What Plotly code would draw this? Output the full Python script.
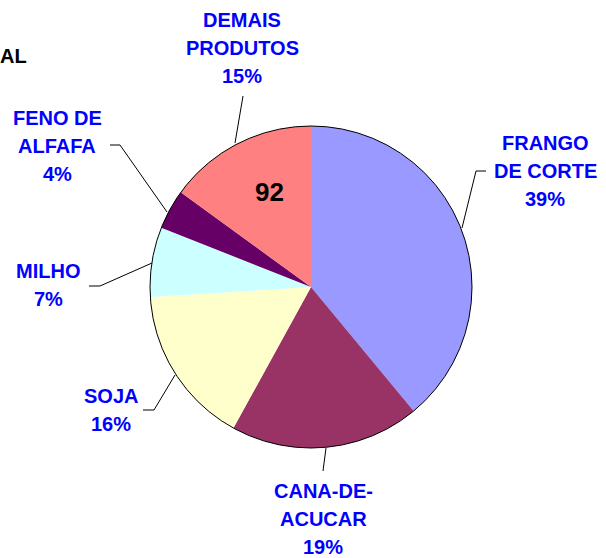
import plotly.graph_objects as go

# ---- data ----
categories = ["FRANGO DE CORTE", "CANA-DE-ACUCAR", "SOJA", "MILHO", "FENO DE ALFAFA", "DEMAIS PRODUTOS"]
label_lines = [["FRANGO", "DE CORTE"], ["CANA-DE-", "ACUCAR"], ["SOJA"], ["MILHO"],
               ["FENO DE", "ALFAFA"], ["DEMAIS", "PRODUTOS"]]
shares = [39, 19, 16, 7, 4, 15]
colors = ["#9999FF", "#993366", "#FFFFCC", "#CCFFFF", "#660066", "#FF8080"]
center_note = "92"
corner_text = "AL"

# ---- layout helpers (pixel coordinates of a 606x558 canvas) ----
W, H = 606, 558
CX, CY, R = 311, 287, 161
label_pos = [(545, 143), (323, 490.5), (111, 396), (48, 270.5), (57, 118), (242, 20)]
line_gap = 28
leaders = [
    [(486, 171), (476, 171), (462, 228)],
    [(323, 471), (326, 448)],
    [(143, 410), (154, 410), (175, 375)],
    [(89, 286), (100, 286), (152, 263)],
    [(110, 145), (120, 145), (167, 212)],
    [(243, 96), (235, 143)],
]

fig = go.Figure()
fig.add_trace(go.Pie(
    labels=categories, values=shares, sort=False, direction="clockwise", rotation=0,
    marker=dict(colors=colors, line=dict(width=0)),
    textinfo="none", hoverinfo="skip", showlegend=False,
    domain=dict(x=[(CX - R) / W, (CX + R) / W], y=[(H - CY - R) / H, (H - CY + R) / H]),
))

shapes = [dict(type="circle", xref="x", yref="y", x0=CX - R, x1=CX + R, y0=CY - R, y1=CY + R,
               line=dict(color="black", width=1), layer="above")]
for pts in leaders:
    path = "M " + " L ".join(f"{x},{y}" for x, y in pts)
    shapes.append(dict(type="path", xref="x", yref="y", path=path,
                       line=dict(color="black", width=1), layer="above"))

annotations = []
total = sum(shares)
for lines, v, (lx, ly) in zip(label_lines, shares, label_pos):
    all_lines = lines + [f"{round(100 * v / total)}%"]
    for i, t in enumerate(all_lines):
        annotations.append(dict(x=lx, y=ly + i * line_gap, xref="x", yref="y", text=f"<b>{t}</b>",
                                showarrow=False, xanchor="center", yanchor="middle",
                                font=dict(family="Arial, Liberation Sans, sans-serif", size=20, color="#0000FF")))
annotations.append(dict(x=269, y=191.5, xref="x", yref="y", text=f"<b>{center_note}</b>", showarrow=False,
                        xanchor="center", yanchor="middle",
                        font=dict(family="Arial, Liberation Sans, sans-serif", size=26, color="black")))
annotations.append(dict(x=0, y=56, xref="x", yref="y", text=f"<b>{corner_text}</b>", showarrow=False,
                        xanchor="left", yanchor="middle", xshift=-2,
                        font=dict(family="Arial, Liberation Sans, sans-serif", size=20, color="black")))

fig.update_layout(
    width=W, height=H, margin=dict(l=0, r=0, t=0, b=0),
    paper_bgcolor="white", plot_bgcolor="white",
    xaxis=dict(range=[0, W], visible=False, fixedrange=True),
    yaxis=dict(range=[H, 0], visible=False, fixedrange=True),
    shapes=shapes, annotations=annotations, showlegend=False,
)
fig.write_html("out.html", config={"displayModeBar": False, "staticPlot": True},
               post_script="document.body.style.margin='0';document.body.style.overflow='hidden';")
